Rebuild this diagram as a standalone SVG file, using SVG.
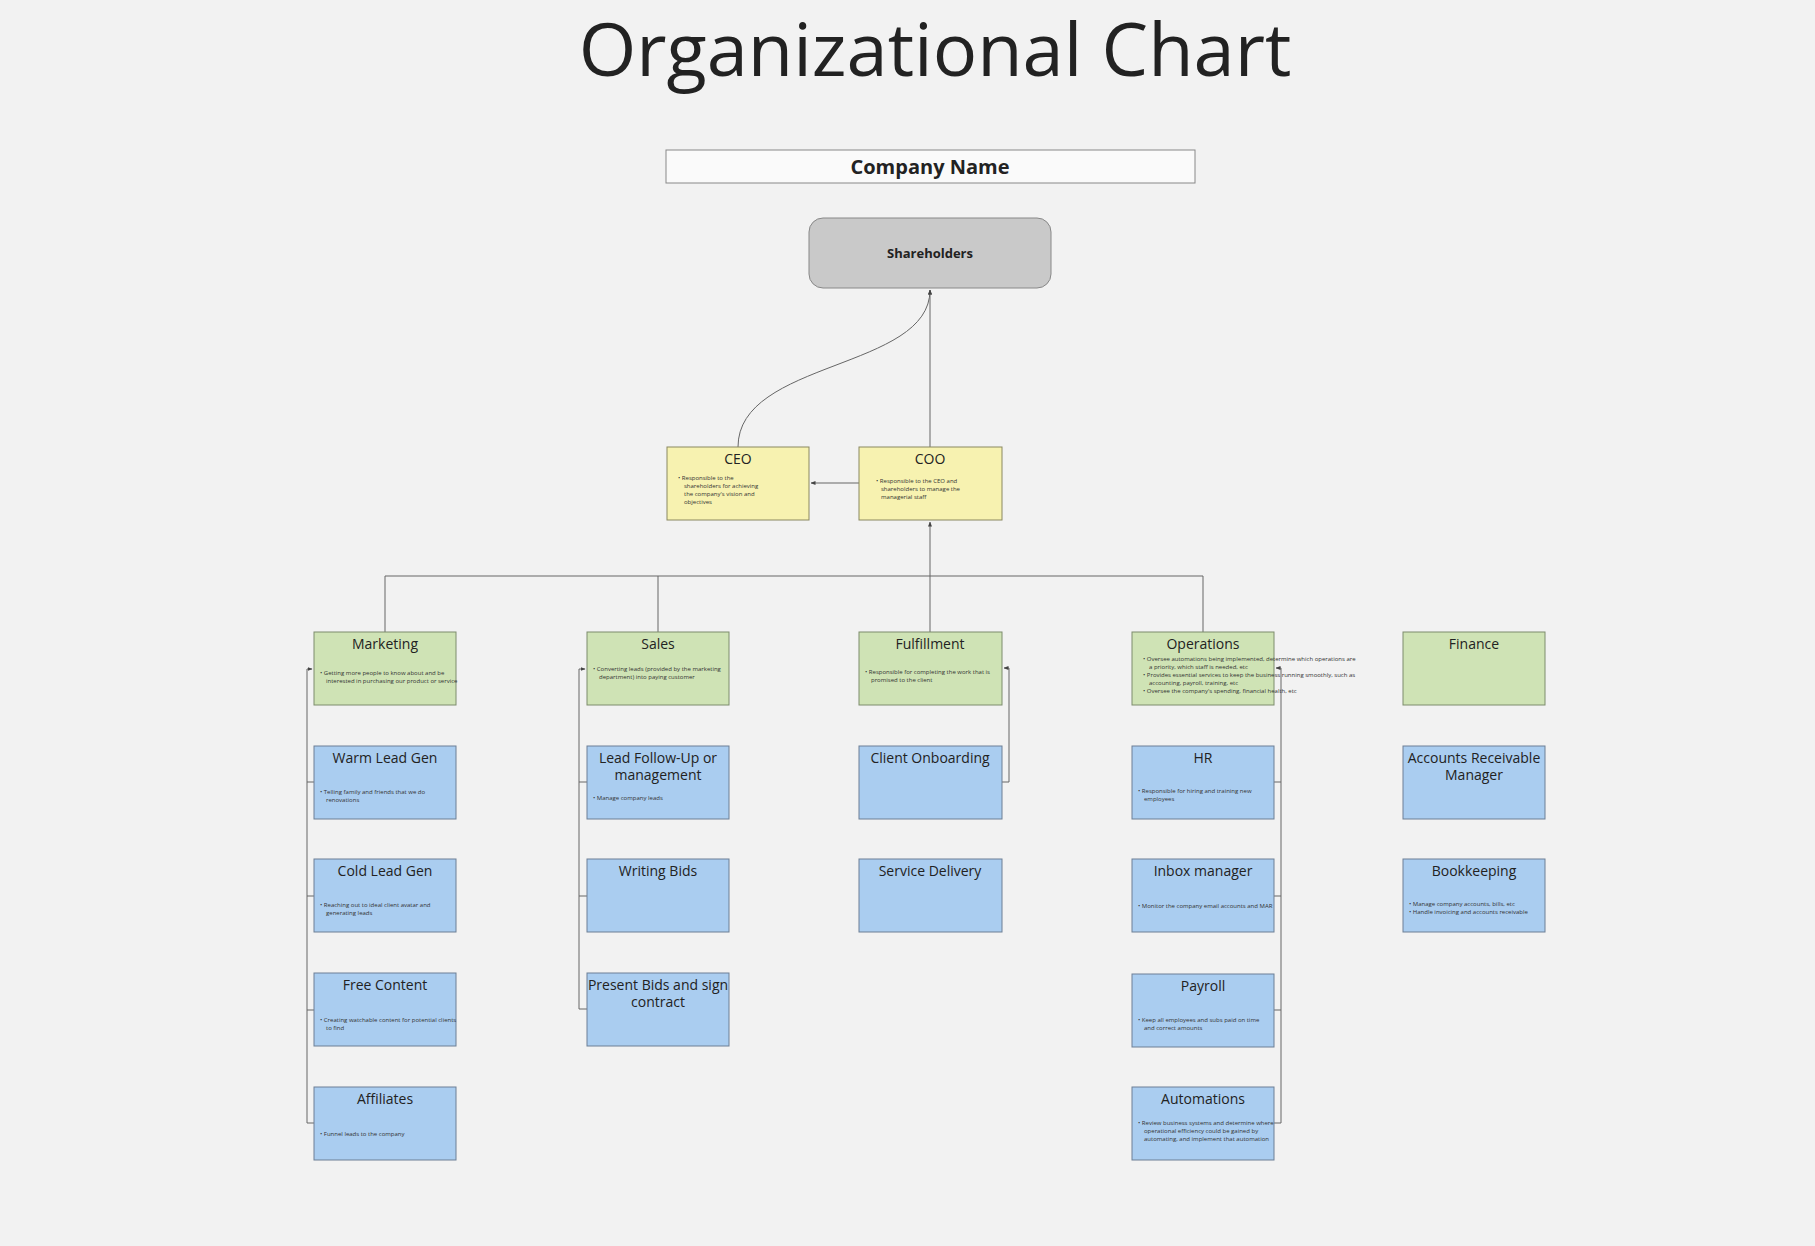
<svg xmlns="http://www.w3.org/2000/svg" width="1815" height="1246" viewBox="0 0 1815 1246">
<defs>
<marker id="ah" viewBox="0 0 10 10" refX="9" refY="5" markerWidth="5" markerHeight="5" orient="auto-start-reverse"><path d="M0,1 L10,5 L0,9 z" fill="#444"/></marker>
<style>
text{font-family:"Open Sans","Noto Sans","Liberation Sans",sans-serif;fill:#222}
.t{font-size:14px;text-anchor:middle}
.b{font-size:6px;fill:#333}
.g rect{fill:#cfe3b5;stroke:#7d8c6c;stroke-width:1}
.bl rect{fill:#aacdf0;stroke:#6d7f95;stroke-width:1}
.y rect{fill:#f7f2b0;stroke:#8a8860;stroke-width:1}
.c path,.c line,.c polyline{fill:none;stroke:#666;stroke-width:1}
</style>
</defs>
<rect width="1815" height="1246" fill="#f2f2f2"/>
<text x="935" y="76" font-size="74" text-anchor="middle" fill="#222">Organizational Chart</text>
<g id="company"><rect x="666" y="150" width="529" height="33" fill="#fafafa" stroke="#888"/><text x="930" y="174" font-size="20" font-weight="bold" text-anchor="middle">Company Name</text></g>
<g id="shareholders"><rect x="809" y="218" width="242" height="70" rx="14" fill="#c9c9c9" stroke="#888"/><text x="930" y="258" font-size="13" font-weight="bold" text-anchor="middle">Shareholders</text></g>
<g class="c" id="connectors">
<path d="M738,447 C738,360 930,370 930,290" marker-end="url(#ah)"/>
<line x1="930" y1="447" x2="930" y2="290" marker-end="url(#ah)"/>
<line x1="859" y1="483" x2="811" y2="483" marker-end="url(#ah)"/>
<line x1="930" y1="576" x2="930" y2="522" marker-end="url(#ah)"/>
<polyline points="385,632 385,576 1203,576 1203,632"/>
<line x1="658" y1="576" x2="658" y2="632"/>
<line x1="930" y1="576" x2="930" y2="632"/>
<polyline points="314,782 307,782 307,669 312,669" marker-end="url(#ah)"/>
<polyline points="314,896 307,896 307,782"/>
<polyline points="314,1010 307,1010 307,896"/>
<polyline points="314,1123 307,1123 307,1010"/>
<polyline points="587,782 579,782 579,669 585,669" marker-end="url(#ah)"/>
<polyline points="587,896 579,896 579,782"/>
<polyline points="587,1009 579,1009 579,896"/>
<polyline points="1002,782 1009,782 1009,668 1004,668" marker-end="url(#ah)"/>
<polyline points="1274,782 1281,782 1281,668 1276,668" marker-end="url(#ah)"/>
<polyline points="1274,896 1281,896 1281,782"/>
<polyline points="1274,1010 1281,1010 1281,896"/>
<polyline points="1274,1123 1281,1123 1281,1010"/>
</g>
<g id="ceo" class="y"><rect x="667" y="447" width="142" height="73"/><text class="t" x="738" y="464">CEO</text><text class="b" x="678" y="480">•  Responsible to the</text><text class="b" x="684" y="488">shareholders for achieving</text><text class="b" x="684" y="496">the company's vision and</text><text class="b" x="684" y="504">objectives</text></g>
<g id="coo" class="y"><rect x="859" y="447" width="143" height="73"/><text class="t" x="930" y="464">COO</text><text class="b" x="876" y="483">•  Responsible to the CEO and</text><text class="b" x="881" y="491">shareholders to manage the</text><text class="b" x="881" y="499">managerial staff</text></g>
<g id="marketing" class="g"><rect x="314" y="632" width="142" height="73"/><text class="t" x="385" y="649">Marketing</text><text class="b" x="320" y="675">•  Getting more people to know about and be</text><text class="b" x="326" y="683">interested in purchasing our product or service</text></g>
<g id="sales" class="g"><rect x="587" y="632" width="142" height="73"/><text class="t" x="658" y="649">Sales</text><text class="b" x="593" y="671">•  Converting leads (provided by the marketing</text><text class="b" x="599" y="679">department) into paying customer</text></g>
<g id="fulfillment" class="g"><rect x="859" y="632" width="143" height="73"/><text class="t" x="930" y="649">Fulfillment</text><text class="b" x="865" y="674">•  Responsible for completing the work that is</text><text class="b" x="871" y="682">promised to the client</text></g>
<g id="operations" class="g"><rect x="1132" y="632" width="142" height="73"/><text class="t" x="1203" y="649">Operations</text><text class="b" x="1143" y="661">•  Oversee automations being implemented, determine which operations are</text><text class="b" x="1149" y="669">a priority, which staff is needed, etc</text><text class="b" x="1143" y="677">•  Provides essential services to keep the business running smoothly, such as</text><text class="b" x="1149" y="685">accounting, payroll, training, etc</text><text class="b" x="1143" y="693">•  Oversee the company's spending, financial health, etc</text></g>
<g id="finance" class="g"><rect x="1403" y="632" width="142" height="73"/><text class="t" x="1474" y="649">Finance</text></g>
<g id="warm" class="bl"><rect x="314" y="746" width="142" height="73"/><text class="t" x="385" y="763">Warm Lead Gen</text><text class="b" x="320" y="794">•  Telling family and friends that we do</text><text class="b" x="326" y="802">renovations</text></g>
<g id="cold" class="bl"><rect x="314" y="859" width="142" height="73"/><text class="t" x="385" y="876">Cold Lead Gen</text><text class="b" x="320" y="907">•  Reaching out to ideal client avatar and</text><text class="b" x="326" y="915">generating leads</text></g>
<g id="free" class="bl"><rect x="314" y="973" width="142" height="73"/><text class="t" x="385" y="990">Free Content</text><text class="b" x="320" y="1022">•  Creating watchable content for potential clients</text><text class="b" x="326" y="1030">to find</text></g>
<g id="affiliates" class="bl"><rect x="314" y="1087" width="142" height="73"/><text class="t" x="385" y="1104">Affiliates</text><text class="b" x="320" y="1136">•  Funnel leads to the company</text></g>
<g id="leadfollow" class="bl"><rect x="587" y="746" width="142" height="73"/><text class="t" x="658" y="763">Lead Follow-Up or</text><text class="t" x="658" y="780">management</text><text class="b" x="593" y="800">•  Manage company leads</text></g>
<g id="writing" class="bl"><rect x="587" y="859" width="142" height="73"/><text class="t" x="658" y="876">Writing Bids</text></g>
<g id="present" class="bl"><rect x="587" y="973" width="142" height="73"/><text class="t" x="658" y="990">Present Bids and sign</text><text class="t" x="658" y="1007">contract</text></g>
<g id="onboarding" class="bl"><rect x="859" y="746" width="143" height="73"/><text class="t" x="930" y="763">Client Onboarding</text></g>
<g id="delivery" class="bl"><rect x="859" y="859" width="143" height="73"/><text class="t" x="930" y="876">Service Delivery</text></g>
<g id="hr" class="bl"><rect x="1132" y="746" width="142" height="73"/><text class="t" x="1203" y="763">HR</text><text class="b" x="1138" y="793">•  Responsible for hiring and training new</text><text class="b" x="1144" y="801">employees</text></g>
<g id="inbox" class="bl"><rect x="1132" y="859" width="142" height="73"/><text class="t" x="1203" y="876">Inbox manager</text><text class="b" x="1138" y="908">•  Monitor the company email accounts and MAR</text></g>
<g id="payroll" class="bl"><rect x="1132" y="974" width="142" height="73"/><text class="t" x="1203" y="991">Payroll</text><text class="b" x="1138" y="1022">•  Keep all employees and subs paid on time</text><text class="b" x="1144" y="1030">and correct amounts</text></g>
<g id="automations" class="bl"><rect x="1132" y="1087" width="142" height="73"/><text class="t" x="1203" y="1104">Automations</text><text class="b" x="1138" y="1125">•  Review business systems and determine where</text><text class="b" x="1144" y="1133">operational efficiency could be gained by</text><text class="b" x="1144" y="1141">automating, and implement that automation</text></g>
<g id="arm" class="bl"><rect x="1403" y="746" width="142" height="73"/><text class="t" x="1474" y="763">Accounts Receivable</text><text class="t" x="1474" y="780">Manager</text></g>
<g id="bookkeeping" class="bl"><rect x="1403" y="859" width="142" height="73"/><text class="t" x="1474" y="876">Bookkeeping</text><text class="b" x="1409" y="906">•  Manage company accounts, bills, etc</text><text class="b" x="1409" y="914">•  Handle invoicing and accounts receivable</text></g>
</svg>
